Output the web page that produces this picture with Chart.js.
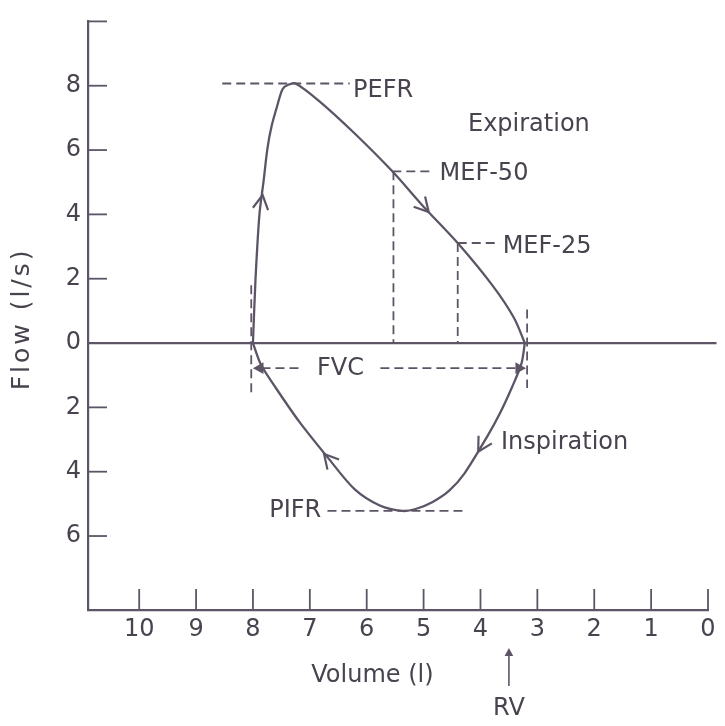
<!DOCTYPE html>
<html>
<head>
<meta charset="utf-8">
<script src="https://cdn.jsdelivr.net/npm/chart.js@4"></script>
<style>
  html, body { margin: 0; padding: 0; background: #fff; }
  canvas { display: block; }
</style>
</head>
<body>
<canvas id="loop" width="725" height="726"></canvas>
<script>
// flow-volume loop, values (volume in l, flow in l/s)
const expVolume = [8.0, 7.956, 7.886, 7.815, 7.745, 7.67, 7.574, 7.478, 7.38, 7.25, 6.82, 6.22, 5.55, 5.0, 4.40, 3.78, 3.41, 3.22];
const expFlow   = [0, 1.95, 4.0, 5.01, 6.05, 6.76, 7.37, 7.9, 8.03, 8.07, 7.5, 6.53, 5.34, 4.24, 3.11, 1.77, 0.78, 0];

const inspVolume = [3.22, 3.28, 3.44, 3.66, 3.88, 4.28, 4.55, 4.84, 5.14, 5.37, 5.77, 6.21, 6.68, 7.18, 7.6, 7.86, 8.0];
const inspFlow   = [0, -0.64, -1.35, -2.19, -2.9, -4.05, -4.59, -4.94, -5.16, -5.22, -5.05, -4.55, -3.57, -2.46, -1.39, -0.67, 0];

const volumeTicks = [10, 9, 8, 7, 6, 5, 4, 3, 2, 1, 0];
const flowTicks = [-8, -6, -4, -2, 0, 2, 4, 6, 8, 10];

// dashed guide lines
const pefrVolume = [8.54, 6.3];    const pefrFlow = [8.07, 8.07];
const mef50HVolume = [5.55, 4.85]; const mef50HFlow = [5.34, 5.34];
const mef50VVolume = [5.53, 5.53]; const mef50VFlow = [5.34, 0];
const mef25HVolume = [4.40, 3.66]; const mef25HFlow = [3.11, 3.11];
const mef25VVolume = [4.40, 4.40]; const mef25VFlow = [3.11, 0];
const fvcLeftVolume = [7.85, 7.17]; const fvcLeftFlow = [-0.78, -0.78];
const fvcRightVolume = [5.76, 3.33]; const fvcRightFlow = [-0.78, -0.78];
const tlcMarkVolume = [8.03, 8.03]; const tlcMarkFlow = [1.8, -1.6];
const rvMarkVolume = [3.18, 3.18];  const rvMarkFlow = [1.04, -1.4];
const pifrVolume = [6.69, 4.28];   const pifrFlow = [-5.22, -5.22];
const zeroVolume = [10.9, -0.15];  const zeroFlow = [0, 0];

// direction arrows on the loop (tail -> tip)
const arrowTailVolume = [7.9, 5.55, 3.77, 6.21];
const arrowTailFlow   = [3.8, 5.34, -2.55, -4.55];
const arrowTipVolume  = [7.83, 4.91, 4.04, 6.75];
const arrowTipFlow    = [4.6, 4.07, -3.38, -3.45];

// FVC arrow heads
const fvcTipVolume = [8.0, 3.2];
const fvcTailVolume = [7.7, 3.5];
const fvcArrowFlow = -0.78;

// text labels
const labelText   = ["PEFR", "Expiration", "MEF-50", "MEF-25", "FVC", "Inspiration", "PIFR"];
const labelVolume = [6.24, 4.22, 4.72, 3.61, 6.46, 3.64, 6.8];
const labelFlow   = [7.85, 6.8, 5.27, 3.0, -0.8, -3.1, -5.22];
const labelAlign  = ["left", "left", "left", "left", "center", "left", "right"];

const rvVolume = 3.5;
const volumeTitleVolume = 5.9;
const flowTitleFlow = 0.75;

const ink = "#5d5566";
const textInk = "#48434e";
const family = "'DejaVu Sans', 'Liberation Sans', sans-serif";

function pts(vs, fs) {
  return vs.map((v, i) => ({ x: v, y: fs[i] }));
}

function solid(vs, fs, extra) {
  return Object.assign({ data: pts(vs, fs), showLine: true, borderColor: ink, borderWidth: 2.3, pointRadius: 0, tension: 0 }, extra || {});
}

function dashed(vs, fs) {
  return solid(vs, fs, { borderWidth: 1.8, borderDash: [9, 5] });
}

const datasets = [
  solid(zeroVolume, zeroFlow, { clip: false }),
  solid(expVolume, expFlow, { tension: 0.3 }),
  solid(inspVolume, inspFlow, { tension: 0.3 }),
  dashed(pefrVolume, pefrFlow),
  dashed(mef50HVolume, mef50HFlow),
  dashed(mef50VVolume, mef50VFlow),
  dashed(mef25HVolume, mef25HFlow),
  dashed(mef25VVolume, mef25VFlow),
  dashed(fvcLeftVolume, fvcLeftFlow),
  dashed(fvcRightVolume, fvcRightFlow),
  dashed(tlcMarkVolume, tlcMarkFlow),
  dashed(rvMarkVolume, rvMarkFlow),
  dashed(pifrVolume, pifrFlow)
];

function chevron(ctx, x0, y0, x1, y1, len, open) {
  const a = Math.atan2(y1 - y0, x1 - x0);
  const s = 0.5;
  const ax = x1 - len * Math.cos(a - s), ay = y1 - len * Math.sin(a - s);
  const bx = x1 - len * Math.cos(a + s), by = y1 - len * Math.sin(a + s);
  ctx.beginPath();
  ctx.moveTo(ax, ay);
  ctx.lineTo(x1, y1);
  ctx.lineTo(bx, by);
  if (open) {
    ctx.stroke();
  } else {
    ctx.closePath();
    ctx.fill();
  }
}

const annotate = {
  id: "annotate",
  afterDatasetsDraw(chart) {
    const { ctx, chartArea: area } = chart;
    const x = chart.scales.x, y = chart.scales.y;
    ctx.save();
    ctx.strokeStyle = ink;
    ctx.fillStyle = ink;
    ctx.lineWidth = 1.8;
    ctx.setLineDash([]);

    // inward tick marks
    x.ticks.forEach(t => {
      const px = x.getPixelForValue(t.value);
      ctx.beginPath();
      ctx.moveTo(px, area.bottom);
      ctx.lineTo(px, area.bottom - 21);
      ctx.stroke();
    });
    y.ticks.forEach(t => {
      if (t.value === -8) return;
      const py = y.getPixelForValue(t.value);
      ctx.beginPath();
      ctx.moveTo(area.left, py);
      ctx.lineTo(area.left + 19, py);
      ctx.stroke();
    });

    // arrows along the loop
    ctx.lineWidth = 2.2;
    arrowTipVolume.forEach((v, i) => {
      chevron(ctx,
        x.getPixelForValue(arrowTailVolume[i]), y.getPixelForValue(arrowTailFlow[i]),
        x.getPixelForValue(v), y.getPixelForValue(arrowTipFlow[i]), 16, true);
    });
    fvcTipVolume.forEach((v, i) => {
      const py = y.getPixelForValue(fvcArrowFlow);
      chevron(ctx, x.getPixelForValue(fvcTailVolume[i]), py, x.getPixelForValue(v), py, 12, false);
    });

    // RV arrow below the axis
    const rx = x.getPixelForValue(rvVolume);
    ctx.lineWidth = 1.6;
    ctx.beginPath();
    ctx.moveTo(rx, area.bottom + 76);
    ctx.lineTo(rx, area.bottom + 42);
    ctx.stroke();
    chevron(ctx, rx, area.bottom + 60, rx, area.bottom + 38, 9, false);

    // texts
    ctx.fillStyle = textInk;
    ctx.textBaseline = "middle";
    ctx.font = "24px " + family;
    labelText.forEach((txt, i) => {
      ctx.textAlign = labelAlign[i];
      ctx.fillText(txt, x.getPixelForValue(labelVolume[i]), y.getPixelForValue(labelFlow[i]));
    });
    ctx.textAlign = "center";
    ctx.fillText("Volume (l)", x.getPixelForValue(volumeTitleVolume), area.bottom + 66);
    ctx.fillText("RV", rx, area.bottom + 99);

    ctx.translate(area.left - 66, y.getPixelForValue(flowTitleFlow));
    ctx.rotate(-Math.PI / 2);
    ctx.font = "25px " + family;
    if ("letterSpacing" in ctx) ctx.letterSpacing = "3px";
    ctx.fillText("Flow (l/s)", 0, 0);
    ctx.restore();
  }
};

new Chart(document.getElementById("loop"), {
  type: "scatter",
  data: { datasets: datasets },
  options: {
    responsive: false,
    animation: false,
    devicePixelRatio: 1,
    layout: { padding: { top: 6, right: 17, bottom: 0, left: 0 } },
    plugins: { legend: { display: false }, tooltip: { enabled: false } },
    elements: { point: { radius: 0 } },
    scales: {
      x: {
        type: "linear",
        reverse: true,
        min: 0,
        max: 10.9,
        afterFit: s => { s.height = 116; },
        afterBuildTicks: s => { s.ticks = volumeTicks.map(v => ({ value: v })); },
        grid: { display: false, drawTicks: false },
        border: { display: true, color: ink, width: 2.2 },
        ticks: { padding: 5, color: textInk, font: { family: family, size: 24 }, autoSkip: false, maxRotation: 0, callback: v => v }
      },
      y: {
        type: "linear",
        min: -8.3,
        max: 10,
        afterFit: s => { s.width = 88; },
        afterBuildTicks: s => { s.ticks = flowTicks.map(v => ({ value: v })); },
        grid: { display: false, drawTicks: false },
        border: { display: true, color: ink, width: 2.2 },
        ticks: { padding: 7, color: textInk, font: { family: family, size: 24 }, autoSkip: false, callback: v => (v === 10 || v === -8) ? "" : Math.abs(v) }
      }
    }
  },
  plugins: [annotate]
});
</script>
</body>
</html>
